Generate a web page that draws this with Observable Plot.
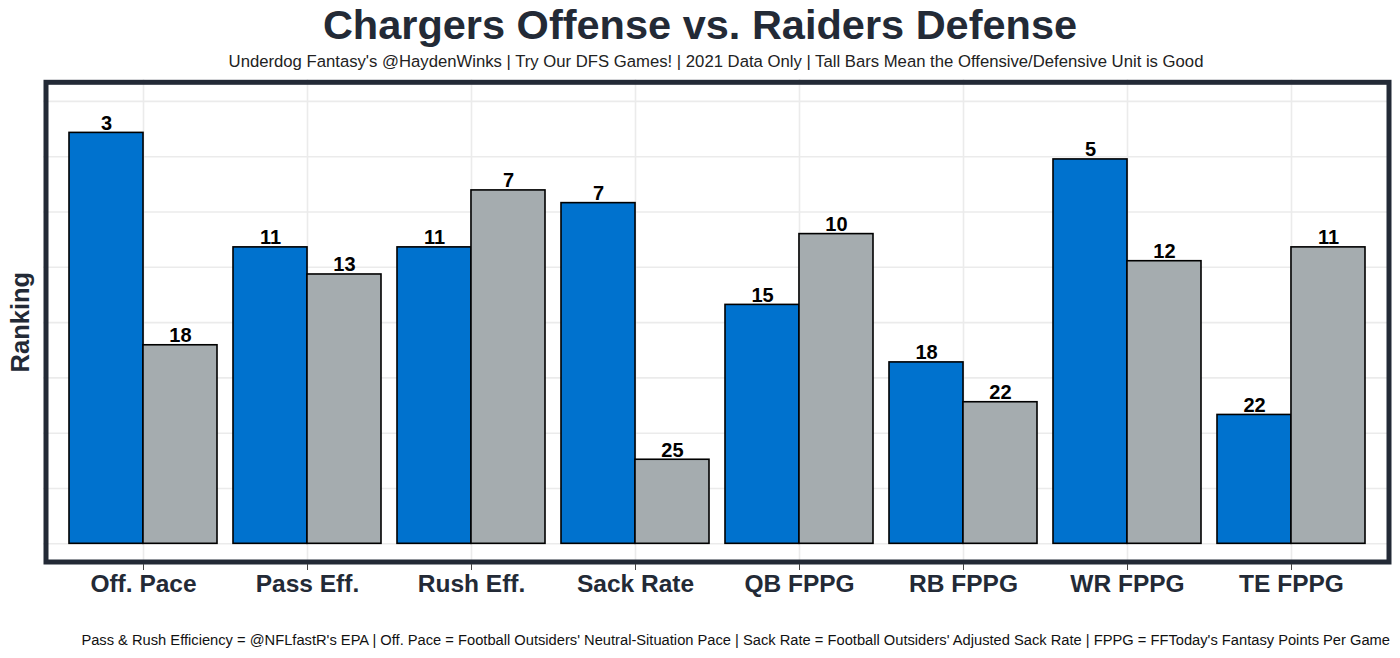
<!DOCTYPE html>
<html>
<head>
<meta charset="utf-8">
<script src="https://cdn.jsdelivr.net/npm/d3@7"></script>
<script src="https://cdn.jsdelivr.net/npm/@observablehq/plot@0.6"></script>
<style>
  html, body { margin: 0; padding: 0; background: #fff; }
  #wrap { position: relative; width: 1400px; height: 658px; font-family: "Liberation Sans", Arial, sans-serif; color: #232a36; }
  .t { position: absolute; left: 0; width: 1400px; text-align: center; white-space: nowrap; }
  #title { top: 4px; font-size: 41.5px; line-height: 41.5px; font-weight: bold; }
  #subtitle { left: 16px; top: 54px; font-size: 16.7px; line-height: 16.7px; color: #222; }
  #chart { position: absolute; left: 0; top: 75px; }
  #caption { position: absolute; right: 10px; top: 633px; font-size: 14.7px; line-height: 14.7px; color: #111; white-space: nowrap; }
</style>
</head>
<body>
<div id="wrap">
  <div class="t" id="title">Chargers Offense vs. Raiders Defense</div>
  <div class="t" id="subtitle">Underdog Fantasy's @HaydenWinks | Try Our DFS Games! | 2021 Data Only | Tall Bars Mean the Offensive/Defensive Unit is Good</div>
  <div id="chart"></div>
  <div id="caption">Pass &amp; Rush Efficiency = @NFLfastR's EPA | Off. Pace = Football Outsiders' Neutral-Situation Pace | Sack Rate = Football Outsiders' Adjusted Sack Rate | FPPG = FFToday's Fantasy Points Per Game</div>
</div>
<script>
const categories = ["Off. Pace", "Pass Eff.", "Rush Eff.", "Sack Rate", "QB FPPG", "RB FPPG", "WR FPPG", "TE FPPG"];
const chargersRank = [3, 11, 11, 7, 15, 18, 5, 22];
const raidersRank = [18, 13, 7, 25, 10, 22, 12, 11];
// bar heights (in gridline units)
const chargersScore = [7.43, 5.36, 5.36, 6.16, 4.32, 3.28, 6.95, 2.33];
const raidersScore = [3.59, 4.87, 6.39, 1.52, 5.60, 2.56, 5.11, 5.36];
const gridBreaks = [0, 1, 2, 3, 4, 5, 6, 7, 8];

const offense = categories.map((c, i) => ({cat: c, rank: chargersRank[i], score: chargersScore[i]}));
const defense = categories.map((c, i) => ({cat: c, rank: raidersRank[i], score: raidersScore[i]}));

const W = 1400, H = 540;
const mL = 43, mR = 9, mT = 4.3, mB = H - 489;
const xOpts = {type: "band", domain: categories, paddingInner: 0.1, paddingOuter: 0.15};
const bw = Plot.scale({x: {...xOpts, range: [mL, W - mR]}}).bandwidth;

const blue = "#0072CE", silver = "#A5ACAF", ink = "#232a36";

const chart = Plot.plot({
  width: W, height: H,
  marginLeft: mL, marginRight: mR, marginTop: mT, marginBottom: mB,
  style: {fontFamily: "Liberation Sans, Arial, sans-serif", background: "#fff"},
  x: {...xOpts, axis: null},
  y: {domain: [-0.374, 8.39], axis: null},
  marks: [
    Plot.ruleY(gridBreaks, {stroke: "#ebebeb", strokeWidth: 1.6}),
    Plot.ruleX(categories, {x: d => d, stroke: "#ebebeb", strokeWidth: 1.6}),
    Plot.barY(offense, {x: "cat", y: "score", fill: blue, stroke: "#000", strokeWidth: 1.6, insetRight: bw / 2}),
    Plot.barY(defense, {x: "cat", y: "score", fill: silver, stroke: "#000", strokeWidth: 1.6, insetLeft: bw / 2}),
    Plot.text(offense, {x: "cat", y: "score", text: "rank", dx: -bw / 4, dy: -3, lineAnchor: "bottom", fontSize: 20, fontWeight: "bold", fill: "#000"}),
    Plot.text(defense, {x: "cat", y: "score", text: "rank", dx: bw / 4, dy: -3, lineAnchor: "bottom", fontSize: 20, fontWeight: "bold", fill: "#000"}),
    Plot.frame({stroke: ink, strokeWidth: 5, inset: 2.5}),
    Plot.axisX({anchor: "bottom", tickSize: 6, tickPadding: 4, fontSize: 24.5, fontWeight: "bold", fill: ink, stroke: "#444", label: null}),
    Plot.text(["Ranking"], {frameAnchor: "left", textAnchor: "middle", dx: -23, rotate: -90, fontSize: 25.5, fontWeight: "bold", fill: ink})
  ]
});
document.getElementById("chart").appendChild(chart);
</script>
</body>
</html>
